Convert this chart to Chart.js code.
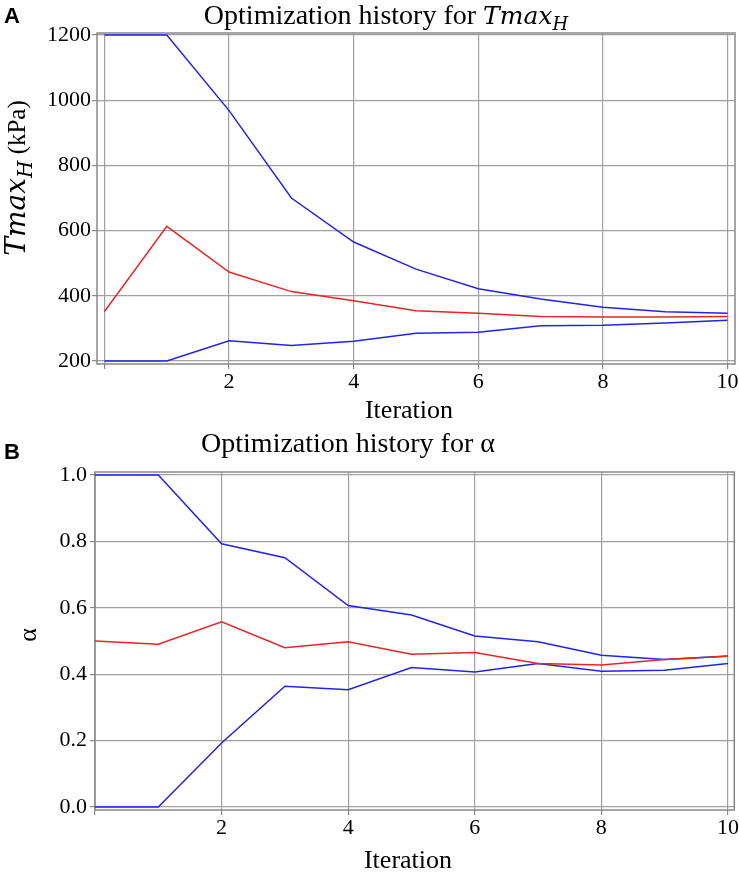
<!DOCTYPE html>
<html><head><meta charset="utf-8">
<script src="https://cdn.jsdelivr.net/npm/chart.js@4"></script>
<style>
html,body{margin:0;padding:0;background:#fff;}
#wrap{position:relative;width:739px;height:877px;overflow:hidden;background:#fff;}
.panel{position:absolute;left:0;width:739px;}
.letter{position:absolute;font-family:"Liberation Sans",Arial,sans-serif;font-weight:bold;font-size:22px;line-height:1;color:#000;}
</style></head><body>
<div id="wrap">
<div class="panel" style="top:0;height:425px"><canvas id="cA" width="739" height="425"></canvas></div>
<div class="panel" style="top:425px;height:452px"><canvas id="cB" width="739" height="452"></canvas></div>
<div class="letter" style="left:4px;top:5px">A</div>
<div class="letter" style="left:4px;top:441px">B</div>
</div>
<script>
// ---- data ----
const iterations = [0,1,2,3,4,5,6,7,8,9,10];
const tmaxUpper = [1200,1200,968,700,565,482,422,390,365,351,347];
const tmaxBest  = [352,613,473,413,385,354,347,337,335,335,337];
const tmaxLower = [200,200,262,248,261,285,288,308,310,317,325];
const alphaUpper = [1.0,1.0,0.793,0.751,0.607,0.578,0.515,0.498,0.457,0.444,0.455];
const alphaBest  = [0.5,0.49,0.558,0.48,0.498,0.46,0.465,0.432,0.428,0.444,0.454];
const alphaLower = [0,0,0.193,0.364,0.353,0.42,0.407,0.432,0.409,0.412,0.432];
const xTicks = [0,2,4,6,8,10];
const xTickLabels = ['','2','4','6','8','10'];
const tmaxTicks = [200,400,600,800,1000,1200];
const tmaxTickLabels = ['200','400','600','800','1000','1200'];
const alphaTicks = [0,0.2,0.4,0.6,0.8,1.0];
const alphaTickLabels = ['0.0','0.2','0.4','0.6','0.8','1.0'];
const xAxisTitle = 'Iteration';

const SERIF = '"Liberation Serif","Times New Roman",serif';
const MATH = '"DejaVu Serif",serif';
const BLUE = '#2323e6';
const RED = '#e62626';
const GRID = '#a0a0a0';
const FRAME = '#888888';

const framePlugin = {
  id:'frame',
  beforeDatasetsDraw(chart){
    const a = chart.chartArea, ctx = chart.ctx;
    ctx.save();
    ctx.strokeStyle = FRAME; ctx.lineWidth = 1.5;
    ctx.strokeRect(a.left, a.top, a.right-a.left, a.bottom-a.top);
    ctx.restore();
  }
};

function drawRich(ctx, parts, cx, cy, rotate){
  ctx.save();
  let total = 0;
  parts.forEach(p=>{ctx.font = p.font; p.w = ctx.measureText(p.text).width; total += p.w;});
  ctx.translate(cx, cy);
  if (rotate) ctx.rotate(-Math.PI/2);
  ctx.fillStyle = '#000';
  ctx.textBaseline = 'alphabetic';
  ctx.textAlign = 'left';
  let x = -total/2;
  parts.forEach(p=>{ctx.font = p.font; ctx.fillText(p.text, x, p.dy||0); x += p.w;});
  ctx.restore();
}

function textPlugin(o){
  return {
    id:'texts',
    afterDraw(chart){
      drawRich(chart.ctx, o.titleParts, o.titleX, o.titleY, false);
      drawRich(chart.ctx, o.labelParts, o.labelX, o.labelY, true);
      drawRich(chart.ctx, [{text:xAxisTitle, font:'26px '+SERIF}], o.xtX, o.xtY, false);
    }
  };
}

function makeChart(id, o){
  const pts = arr => iterations.map((x,i)=>({x:x, y:arr[i]}));
  const line = (arr,color)=>({data:pts(arr), borderColor:color, backgroundColor:color, borderWidth:1.5, pointRadius:0, tension:0, fill:false});
  return new Chart(document.getElementById(id), {
    type:'line',
    data:{datasets:[ line(o.best,RED), line(o.upper,BLUE), line(o.lower,BLUE) ]},
    options:{
      responsive:false, animation:false, devicePixelRatio:1,
      layout:{padding:{top:o.top, right:4, left:0, bottom:0}},
      plugins:{legend:{display:false}, tooltip:{enabled:false}},
      scales:{
        x:{
          type:'linear', min:o.xmin, max:o.xmax,
          afterBuildTicks:s=>{s.ticks = xTicks.map(v=>({value:v}));},
          ticks:{callback:(v)=>{const i = xTicks.indexOf(v); return i>=0?xTickLabels[i]:'';}, font:{family:SERIF,size:22}, color:'#000', padding:0, maxRotation:0, autoSkip:false},
          grid:{color:GRID, lineWidth:1.2, tickLength:5, tickColor:FRAME},
          border:{display:false},
          afterFit:s=>{s.height = o.xh;}
        },
        y:{
          type:'linear', min:o.ymin, max:o.ymax,
          afterBuildTicks:s=>{s.ticks = o.yTicks.map(v=>({value:v}));},
          ticks:{callback:(v)=>{const i = o.yTicks.findIndex(t=>Math.abs(t-v)<1e-9); return i>=0?o.yTickLabels[i]:'';}, font:{family:SERIF,size:22}, color:'#000', padding:o.ypad, autoSkip:false},
          grid:{color:GRID, lineWidth:1.2, tickLength:5, tickColor:FRAME},
          border:{display:false},
          afterFit:s=>{s.width = o.yw;}
        }
      }
    },
    plugins:[framePlugin, textPlugin(o)]
  });
}

makeChart('cA', {
  upper:tmaxUpper, best:tmaxBest, lower:tmaxLower,
  top:33, xh:61, yw:97, ypad:1,
  xmin:-0.12, xmax:10.12, ymin:191, ymax:1206,
  yTicks:tmaxTicks, yTickLabels:tmaxTickLabels,
  titleParts:[
    {text:'Optimization history for ', font:'28px '+SERIF},
    {text:'Tmax', font:'italic 25px '+MATH},
    {text:'H', font:'italic 18px '+MATH, dy:6}
  ], titleX:386, titleY:24,
  labelParts:[
    {text:'Tmax', font:'italic 28px '+MATH},
    {text:'H', font:'italic 20px '+MATH, dy:7},
    {text:' (kPa)', font:'25px '+SERIF}
  ], labelX:25, labelY:178,
  xtX:409, xtY:418
});

makeChart('cB', {
  upper:alphaUpper, best:alphaBest, lower:alphaLower,
  top:47, xh:67, yw:95, ypad:3,
  xmin:0, xmax:10.1, ymin:-0.009, ymax:1.009,
  yTicks:alphaTicks, yTickLabels:alphaTickLabels,
  titleParts:[
    {text:'Optimization history for α', font:'28px '+SERIF}
  ], titleX:348, titleY:27,
  labelParts:[
    {text:'α', font:'26px '+SERIF}
  ], labelX:36, labelY:210,
  xtX:408, xtY:443
});
</script>
</body></html>
